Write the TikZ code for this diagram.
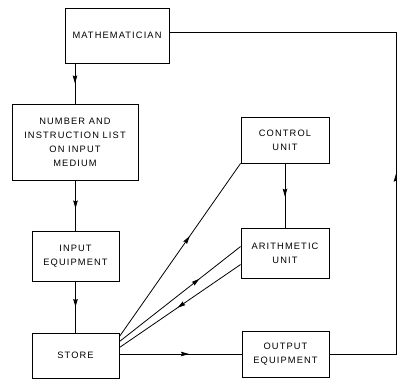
\documentclass[tikz,border=0pt]{standalone}
\usepackage{fontspec}
\newfontfamily\labfont[LetterSpace=12]{Liberation Sans}
\usetikzlibrary{decorations.markings,arrows.meta,calc}
\tikzset{
  box/.style={draw,line width=0.9pt,align=center,inner sep=0pt,
    font=\labfont\fontsize{9.3}{14}\selectfont},
  conn/.style={line width=0.8pt},
  midarrow/.style={postaction={decorate},decoration={markings,
    mark=at position #1 with {\arrow{Stealth[length=8pt,width=4.5pt,inset=1pt]}}}}
}
\begin{document}
\begin{tikzpicture}[x=1pt,y=-1pt]
\useasboundingbox (0,0) rectangle (397,380);
\node[box,minimum width=104pt,minimum height=55pt] (math) at (117,35.5) {MATHEMATICIAN};
\node[box,minimum width=126pt,minimum height=76pt] (num) at (75,142) {NUMBER AND\\INSTRUCTION LIST\\ON INPUT\\MEDIUM};
\node[box,minimum width=88pt,minimum height=46pt] (ctrl) at (285,140) {CONTROL\\UNIT};
\node[box,minimum width=88pt,minimum height=50pt] (arith) at (285,253) {ARITHMETIC\\UNIT};
\node[box,minimum width=87pt,minimum height=50pt] (inp) at (75.5,256) {INPUT\\EQUIPMENT};
\node[box,minimum width=87pt,minimum height=45pt] (store) at (75.5,355.5) {STORE};
\node[box,minimum width=87pt,minimum height=46pt] (out) at (285.5,354) {OUTPUT\\EQUIPMENT};
\coordinate (s1) at ($(store.north east)+(0,4)$);
\coordinate (s2) at ($(store.north east)+(0,9)$);
\coordinate (s3) at ($(store.north east)+(0,15)$);
\coordinate (a1) at ($(arith.north west)+(0,19)$);
\coordinate (a2) at ($(arith.north west)+(0,37)$);
\coordinate (rb) at (396,352);
\coordinate (rt) at (396,32);
\draw[conn,midarrow=0.5] (math.south -| num.north) -- (num.north);
\draw[conn,midarrow=0.56] (num.south -| inp.north) -- (inp.north);
\draw[conn,midarrow=0.5] (inp.south) -- (store.north);
\draw[conn,midarrow=0.52] (ctrl.south) -- (arith.north);
\draw[conn,midarrow=0.58] (s1) -- (ctrl.south west);
\draw[conn,midarrow=0.66] (s2) -- (a1);
\draw[conn,midarrow=0.52] (a2) -- (s3);
\draw[conn,midarrow=0.57] (store.east |- out.west) -- (out.west);
\draw[conn] (out.east) -- (out.east -| rb) -- (rt) -- (math.east |- rt);
\path[conn,midarrow=0.56] (out.east -| rb) -- (rt);
\end{tikzpicture}
\end{document}
